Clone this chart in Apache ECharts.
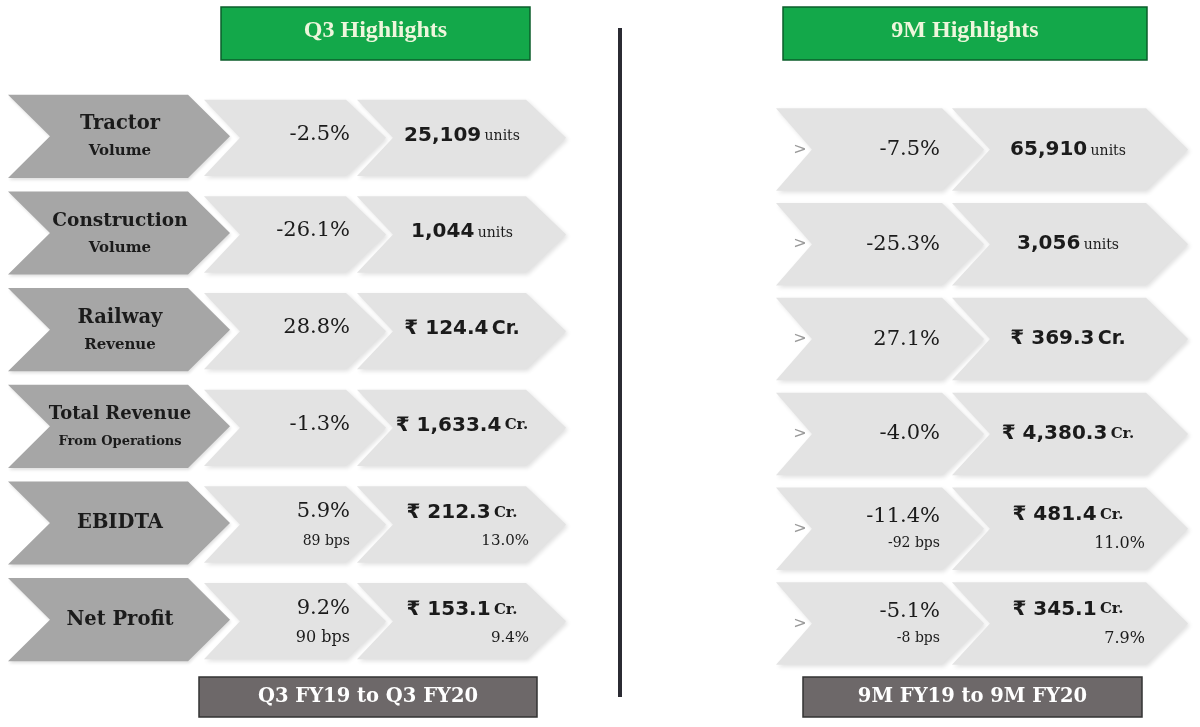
<!DOCTYPE html>
<html>
<head>
<meta charset="utf-8">
<script src="https://cdn.jsdelivr.net/npm/echarts@6/dist/echarts.min.js"></script>
<style>
  html, body { margin: 0; padding: 0; background: #fff; }
  #main { width: 1200px; height: 727px; }
</style>
</head>
<body>
<div id="main"></div>
<script>
// 指标名称
const metrics = ['Tractor', 'Construction', 'Railway', 'Total Revenue', 'EBIDTA', 'Net Profit'];
const metricSubs = ['Volume', 'Volume', 'Revenue', 'From Operations', '', ''];
const valueUnits = ['units', 'units', 'Cr.', 'Cr.', 'Cr.', 'Cr.'];

// Q3 数据
const q3Change = [-2.5, -26.1, 28.8, -1.3, 5.9, 9.2];
const q3Bps = [null, null, null, null, 89, 90];
const q3Value = [25109, 1044, 124.4, 1633.4, 212.3, 153.1];
const q3Margin = [null, null, null, null, 13.0, 9.4];

// 9M 数据
const nmChange = [-7.5, -25.3, 27.1, -4.0, -11.4, -5.1];
const nmBps = [null, null, null, null, -92, -8];
const nmValue = [65910, 3056, 369.3, 4380.3, 481.4, 345.1];
const nmMargin = [null, null, null, null, 11.0, 7.9];

// 标题文字
const panelTitles = ['Q3 Highlights', '9M Highlights'];
const periodLabels = ['Q3 FY19 to Q3 FY20', '9M FY19 to 9M FY20'];

const SERIF = '"DejaVu Serif", serif';
const SANS = '"DejaVu Sans", sans-serif';
const INK = '#1b1b1b';

// 箭头形状的横向位置 [左边, 凹口, 右上角, 尖端]
const LEFT_COLS = {
  label: [8, 50, 188, 230],
  change: [204, 240, 346, 386],
  value: [357, 393, 526, 566]
};
const RIGHT_COLS = {
  change: [776, 812, 942, 984],
  value: [952, 990, 1146, 1188]
};

const DARK_STYLE = {
  fill: '#a6a6a6',
  shadowBlur: 3, shadowColor: 'rgba(0,0,0,0.12)', shadowOffsetX: 1, shadowOffsetY: 2
};
const LIGHT_STYLE = {
  fill: '#e3e3e3',
  shadowBlur: 4, shadowColor: 'rgba(0,0,0,0.12)', shadowOffsetX: 2, shadowOffsetY: 2
};

function fmtPct(v) { return v.toFixed(1) + '%'; }
function fmtValue(v, unit) {
  if (unit === 'units') return v.toLocaleString('en-US');
  return v.toLocaleString('en-US', { minimumFractionDigits: 1, maximumFractionDigits: 1 });
}

function chevron(cols, yc, h, X, style) {
  const a = X(cols[0]), n = X(cols[1]), r = X(cols[2]), t = X(cols[3]);
  const top = yc - h / 2, bot = yc + h / 2;
  return {
    type: 'polygon',
    shape: { points: [[a, top], [r, top], [t, yc], [r, bot], [a, bot], [n, yc]] },
    style: style
  };
}

function txt(text, x, y, align, size, weight, family, fill) {
  return {
    type: 'text',
    style: {
      text: text, x: x, y: y, align: align, verticalAlign: 'middle',
      fontSize: size, fontWeight: weight, fontFamily: family, fill: fill || INK
    }
  };
}

function valueText(v, unit, x, y, railway) {
  const num = fmtValue(v, unit);
  const text = unit === 'units'
    ? '{n|' + num + '} {u|units}'
    : '{n|\u20B9 ' + num + '} {c|Cr.}';
  return {
    type: 'text',
    style: {
      text: text, x: x, y: y, align: 'center', verticalAlign: 'middle', fill: INK,
      rich: {
        n: { fontSize: 20, fontWeight: 'bold', fontFamily: SANS, fill: INK },
        u: { fontSize: 14, fontFamily: SERIF, fill: INK, padding: [3, 0, 0, 0] },
        c: { fontSize: railway ? 19 : 15, fontWeight: 'bold', fontFamily: railway ? SANS : SERIF, fill: INK }
      }
    }
  };
}

function renderLeft(params, api) {
  const i = api.value(1);
  const yc = api.coord([0, i])[1];
  const band = api.size([0, 1])[1];
  const X = x => api.coord([x, i])[0];
  const children = [];

  children.push(chevron(LEFT_COLS.change, yc + 1.5, band * 0.79, X, LIGHT_STYLE));
  children.push(chevron(LEFT_COLS.value, yc + 1.5, band * 0.79, X, LIGHT_STYLE));
  children.push(chevron(LEFT_COLS.label, yc, band * 0.86, X, DARK_STYLE));

  // 指标名称
  const lx = X(120);
  const mainSize = i === 1 ? 18.5 : (i === 3 ? 18 : 19.5);
  if (metricSubs[i]) {
    children.push(txt(metrics[i], lx, yc - 12, 'center', mainSize, 'bold', SERIF));
    children.push(txt(metricSubs[i], lx, yc + 15, 'center', i === 3 ? 13 : 15, 'bold', SERIF));
  } else {
    children.push(txt(metrics[i], lx, yc, 'center', mainSize, 'bold', SERIF));
  }

  // 同比变化
  const cx = X(350);
  if (q3Bps[i] !== null) {
    children.push(txt(fmtPct(q3Change[i]), cx, yc - 11, 'right', 21, 'normal', SERIF));
    children.push(txt(q3Bps[i] + ' bps', cx, yc + 18, 'right', i === 4 ? 14 : 16, 'normal', SERIF));
  } else {
    children.push(txt(fmtPct(q3Change[i]), cx, yc - 2, 'right', 21, 'normal', SERIF));
  }

  // 数值
  const vx = X(462);
  if (q3Margin[i] !== null) {
    children.push(valueText(q3Value[i], valueUnits[i], vx, yc - 10, false));
    children.push(txt(fmtPct(q3Margin[i]), X(529), yc + 18, 'right', 15, 'normal', SERIF));
  } else {
    children.push(valueText(q3Value[i], valueUnits[i], vx, yc - 1, i === 2));
  }
  return { type: 'group', children: children };
}

function renderRight(params, api) {
  const i = api.value(1);
  const yc = api.coord([0, i])[1];
  const band = api.size([0, 1])[1];
  const X = x => api.coord([x, i])[0];
  const children = [];

  children.push(chevron(RIGHT_COLS.change, yc, band * 0.87, X, LIGHT_STYLE));
  children.push(chevron(RIGHT_COLS.value, yc, band * 0.87, X, LIGHT_STYLE));
  children.push(txt('>', X(800), yc, 'center', 16, 'normal', SANS, '#9a9a9a'));

  const cx = X(940);
  if (nmBps[i] !== null) {
    children.push(txt(fmtPct(nmChange[i]), cx, yc - 12, 'right', 21, 'normal', SERIF));
    children.push(txt(nmBps[i] + ' bps', cx, yc + 15, 'right', 14, 'normal', SERIF));
  } else {
    children.push(txt(fmtPct(nmChange[i]), cx, yc, 'right', 21, 'normal', SERIF));
  }

  const vx = X(1068);
  if (nmMargin[i] !== null) {
    children.push(valueText(nmValue[i], valueUnits[i], vx, yc - 14, false));
    children.push(txt(fmtPct(nmMargin[i]), X(1145), yc + 15, 'right', 16, 'normal', SERIF));
  } else {
    children.push(valueText(nmValue[i], valueUnits[i], vx, yc, i === 2));
  }
  return { type: 'group', children: children };
}

function headerBox(x, y, w, h, fill, stroke, text, font, color, dy) {
  return {
    type: 'group',
    children: [
      { type: 'rect', shape: { x: x, y: y, width: w, height: h }, style: { fill: fill, stroke: stroke, lineWidth: 1.5 } },
      { type: 'text', style: { text: text, x: x + w / 2, y: y + h / 2 + (dy || 0), align: 'center', verticalAlign: 'middle',
        fontSize: font.size, fontWeight: 'bold', fontFamily: font.family, fill: color } }
    ]
  };
}

const chart = echarts.init(document.getElementById('main'));
const rowIdx = metrics.map((m, i) => [0, i]);
const HEAD_FONT = { size: 24, family: '"Liberation Serif", serif' };
const PERIOD_FONT = { size: 19.5, family: SERIF };

chart.setOption({
  animation: false,
  backgroundColor: '#ffffff',
  grid: [
    { left: 0, right: 0, top: 88, height: 580 },
    { left: 0, right: 0, top: 102, height: 569 }
  ],
  xAxis: [
    { gridIndex: 0, type: 'value', min: 0, max: 1200, show: false },
    { gridIndex: 1, type: 'value', min: 0, max: 1200, show: false }
  ],
  yAxis: [
    { gridIndex: 0, type: 'category', data: metrics, inverse: true, show: false },
    { gridIndex: 1, type: 'category', data: metrics, inverse: true, show: false }
  ],
  series: [
    { type: 'custom', name: panelTitles[0], xAxisIndex: 0, yAxisIndex: 0, data: rowIdx,
      encode: { x: 0, y: 1 }, renderItem: renderLeft, silent: true },
    { type: 'custom', name: panelTitles[1], xAxisIndex: 1, yAxisIndex: 1, data: rowIdx,
      encode: { x: 0, y: 1 }, renderItem: renderRight, silent: true }
  ],
  graphic: [
    headerBox(221, 7, 309, 53, '#13a84a', '#0b5e2b', panelTitles[0], HEAD_FONT, '#eef6dc', -3),
    headerBox(783, 7, 364, 53, '#13a84a', '#0b5e2b', panelTitles[1], HEAD_FONT, '#eef6dc', -3),
    headerBox(199, 677, 338, 40, '#6d6869', '#333333', periodLabels[0], PERIOD_FONT, '#ffffff', 0),
    headerBox(803, 677, 339, 40, '#6d6869', '#333333', periodLabels[1], PERIOD_FONT, '#ffffff', 0),
    { type: 'rect', shape: { x: 618, y: 28, width: 4, height: 669 }, style: { fill: '#2b2b33' } }
  ]
});

window.addEventListener('resize', function () { chart.resize(); });
</script>
</body>
</html>
